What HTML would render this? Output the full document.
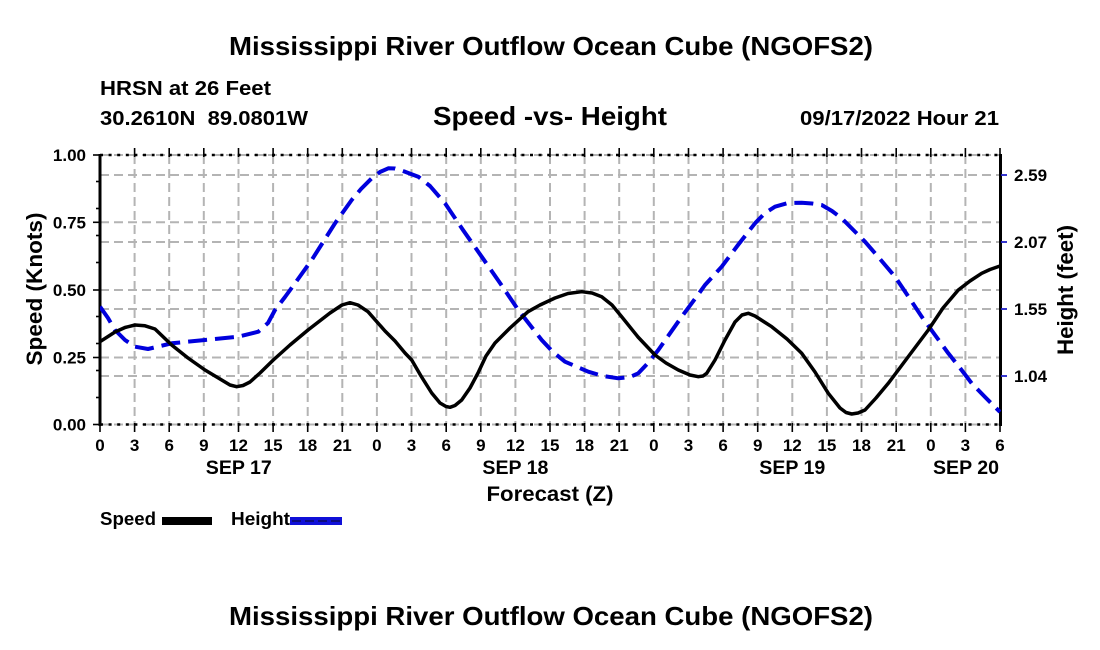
<!DOCTYPE html>
<html>
<head>
<meta charset="utf-8">
<style>
html,body{margin:0;padding:0;background:#fff;}
svg{display:block;}
text{font-family:"Liberation Sans",Arial,sans-serif;font-weight:bold;fill:#000;}
</style>
</head>
<body>
<svg width="1100" height="650" viewBox="0 0 1100 650" xmlns="http://www.w3.org/2000/svg">
<rect width="1100" height="650" fill="#fff"/>

<!-- Titles -->
<text x="229" y="55" font-size="26" textLength="644" lengthAdjust="spacingAndGlyphs">Mississippi River Outflow Ocean Cube (NGOFS2)</text>
<text x="100" y="95" font-size="20" textLength="171" lengthAdjust="spacingAndGlyphs">HRSN at 26 Feet</text>
<text x="100" y="125" font-size="20" textLength="208" lengthAdjust="spacingAndGlyphs">30.2610N&#160; 89.0801W</text>
<text x="433" y="125" font-size="26" textLength="234" lengthAdjust="spacingAndGlyphs">Speed -vs- Height</text>
<text x="800" y="125" font-size="20" textLength="199" lengthAdjust="spacingAndGlyphs">09/17/2022 Hour 21</text>

<!-- Grid -->
<g stroke="#b4b4b4" stroke-width="2" stroke-dasharray="9 5" fill="none">
  <line x1="100" y1="175" x2="1000" y2="175"/>
  <line x1="100" y1="222.3" x2="1000" y2="222.3"/>
  <line x1="100" y1="242" x2="1000" y2="242"/>
  <line x1="100" y1="290" x2="1000" y2="290"/>
  <line x1="100" y1="309" x2="1000" y2="309"/>
  <line x1="100" y1="357.5" x2="1000" y2="357.5"/>
  <line x1="100" y1="376" x2="1000" y2="376"/>
  <line x1="100" y1="155" x2="1000" y2="155"/>
  <line x1="100" y1="424.5" x2="1000" y2="424.5"/>
  <line x1="134.6" y1="155" x2="134.6" y2="424"/>
  <line x1="169.2" y1="155" x2="169.2" y2="424"/>
  <line x1="203.8" y1="155" x2="203.8" y2="424"/>
  <line x1="238.5" y1="155" x2="238.5" y2="424"/>
  <line x1="273.1" y1="155" x2="273.1" y2="424"/>
  <line x1="307.7" y1="155" x2="307.7" y2="424"/>
  <line x1="342.3" y1="155" x2="342.3" y2="424"/>
  <line x1="376.9" y1="155" x2="376.9" y2="424"/>
  <line x1="411.5" y1="155" x2="411.5" y2="424"/>
  <line x1="446.2" y1="155" x2="446.2" y2="424"/>
  <line x1="480.8" y1="155" x2="480.8" y2="424"/>
  <line x1="515.4" y1="155" x2="515.4" y2="424"/>
  <line x1="550" y1="155" x2="550" y2="424"/>
  <line x1="584.6" y1="155" x2="584.6" y2="424"/>
  <line x1="619.2" y1="155" x2="619.2" y2="424"/>
  <line x1="653.8" y1="155" x2="653.8" y2="424"/>
  <line x1="688.5" y1="155" x2="688.5" y2="424"/>
  <line x1="723.1" y1="155" x2="723.1" y2="424"/>
  <line x1="757.7" y1="155" x2="757.7" y2="424"/>
  <line x1="792.3" y1="155" x2="792.3" y2="424"/>
  <line x1="826.9" y1="155" x2="826.9" y2="424"/>
  <line x1="861.5" y1="155" x2="861.5" y2="424"/>
  <line x1="896.2" y1="155" x2="896.2" y2="424"/>
  <line x1="930.8" y1="155" x2="930.8" y2="424"/>
  <line x1="965.4" y1="155" x2="965.4" y2="424"/>
</g>

<!-- Top / bottom dotted borders -->
<g stroke="#000" stroke-width="2.5" stroke-dasharray="3 5.6" fill="none">
  <line x1="100" y1="155" x2="1000" y2="155"/>
  <line x1="100" y1="424.5" x2="1000" y2="424.5"/>
</g>

<!-- Top/bottom ticks -->
<g stroke="#000" stroke-width="1.6">
  <line x1="134.6" y1="148" x2="134.6" y2="157"/><line x1="134.6" y1="423" x2="134.6" y2="432"/>
  <line x1="169.2" y1="148" x2="169.2" y2="157"/><line x1="169.2" y1="423" x2="169.2" y2="432"/>
  <line x1="203.8" y1="148" x2="203.8" y2="157"/><line x1="203.8" y1="423" x2="203.8" y2="432"/>
  <line x1="238.5" y1="148" x2="238.5" y2="157"/><line x1="238.5" y1="423" x2="238.5" y2="432"/>
  <line x1="273.1" y1="148" x2="273.1" y2="157"/><line x1="273.1" y1="423" x2="273.1" y2="432"/>
  <line x1="307.7" y1="148" x2="307.7" y2="157"/><line x1="307.7" y1="423" x2="307.7" y2="432"/>
  <line x1="342.3" y1="148" x2="342.3" y2="157"/><line x1="342.3" y1="423" x2="342.3" y2="432"/>
  <line x1="376.9" y1="148" x2="376.9" y2="157"/><line x1="376.9" y1="423" x2="376.9" y2="432"/>
  <line x1="411.5" y1="148" x2="411.5" y2="157"/><line x1="411.5" y1="423" x2="411.5" y2="432"/>
  <line x1="446.2" y1="148" x2="446.2" y2="157"/><line x1="446.2" y1="423" x2="446.2" y2="432"/>
  <line x1="480.8" y1="148" x2="480.8" y2="157"/><line x1="480.8" y1="423" x2="480.8" y2="432"/>
  <line x1="515.4" y1="148" x2="515.4" y2="157"/><line x1="515.4" y1="423" x2="515.4" y2="432"/>
  <line x1="550" y1="148" x2="550" y2="157"/><line x1="550" y1="423" x2="550" y2="432"/>
  <line x1="584.6" y1="148" x2="584.6" y2="157"/><line x1="584.6" y1="423" x2="584.6" y2="432"/>
  <line x1="619.2" y1="148" x2="619.2" y2="157"/><line x1="619.2" y1="423" x2="619.2" y2="432"/>
  <line x1="653.8" y1="148" x2="653.8" y2="157"/><line x1="653.8" y1="423" x2="653.8" y2="432"/>
  <line x1="688.5" y1="148" x2="688.5" y2="157"/><line x1="688.5" y1="423" x2="688.5" y2="432"/>
  <line x1="723.1" y1="148" x2="723.1" y2="157"/><line x1="723.1" y1="423" x2="723.1" y2="432"/>
  <line x1="757.7" y1="148" x2="757.7" y2="157"/><line x1="757.7" y1="423" x2="757.7" y2="432"/>
  <line x1="792.3" y1="148" x2="792.3" y2="157"/><line x1="792.3" y1="423" x2="792.3" y2="432"/>
  <line x1="826.9" y1="148" x2="826.9" y2="157"/><line x1="826.9" y1="423" x2="826.9" y2="432"/>
  <line x1="861.5" y1="148" x2="861.5" y2="157"/><line x1="861.5" y1="423" x2="861.5" y2="432"/>
  <line x1="896.2" y1="148" x2="896.2" y2="157"/><line x1="896.2" y1="423" x2="896.2" y2="432"/>
  <line x1="930.8" y1="148" x2="930.8" y2="157"/><line x1="930.8" y1="423" x2="930.8" y2="432"/>
  <line x1="965.4" y1="148" x2="965.4" y2="157"/><line x1="965.4" y1="423" x2="965.4" y2="432"/>
  <line x1="1000" y1="148" x2="1000" y2="157"/><line x1="1000" y1="423" x2="1000" y2="432"/>
  <line x1="100" y1="423" x2="100" y2="432"/>
</g>

<!-- Left axis -->
<line x1="100" y1="154" x2="100" y2="426" stroke="#000" stroke-width="3"/>
<g stroke="#000" stroke-width="1.6">
  <line x1="93" y1="155" x2="100" y2="155"/>
  <line x1="93" y1="222.3" x2="100" y2="222.3"/>
  <line x1="93" y1="290" x2="100" y2="290"/>
  <line x1="93" y1="357.5" x2="100" y2="357.5"/>
  <line x1="93" y1="424.5" x2="100" y2="424.5"/>
  <line x1="96" y1="181.5" x2="100" y2="181.5"/>
  <line x1="96" y1="208.5" x2="100" y2="208.5"/>
  <line x1="96" y1="235.5" x2="100" y2="235.5"/>
  <line x1="96" y1="262.5" x2="100" y2="262.5"/>
  <line x1="96" y1="316.5" x2="100" y2="316.5"/>
  <line x1="96" y1="343.5" x2="100" y2="343.5"/>
  <line x1="96" y1="370.5" x2="100" y2="370.5"/>
  <line x1="96" y1="397.5" x2="100" y2="397.5"/>
</g>
<g font-size="17" text-anchor="end">
  <text x="86" y="161">1.00</text>
  <text x="86" y="228.3">0.75</text>
  <text x="86" y="296">0.50</text>
  <text x="86" y="363.5">0.25</text>
  <text x="86" y="430.5">0.00</text>
</g>

<!-- Right axis -->
<line x1="1000.5" y1="154" x2="1000.5" y2="426" stroke="#000" stroke-width="3"/>
<g stroke="#2020c8" stroke-width="1.8">
  <line x1="1001" y1="175" x2="1007" y2="175"/>
  <line x1="1001" y1="242" x2="1007" y2="242"/>
  <line x1="1001" y1="309" x2="1007" y2="309"/>
  <line x1="1001" y1="376" x2="1007" y2="376"/>
</g>
<g font-size="17">
  <text x="1014" y="181">2.59</text>
  <text x="1014" y="248">2.07</text>
  <text x="1014" y="315">1.55</text>
  <text x="1014" y="382">1.04</text>
</g>

<!-- Axis titles -->
<text transform="translate(42,289) rotate(-90)" font-size="22" text-anchor="middle" textLength="153" lengthAdjust="spacingAndGlyphs">Speed (Knots)</text>
<text transform="translate(1073,290) rotate(-90)" font-size="22" text-anchor="middle" textLength="130" lengthAdjust="spacingAndGlyphs">Height (feet)</text>

<!-- X tick labels -->
<g font-size="17" text-anchor="middle">
  <text x="100" y="451">0</text>
  <text x="134.6" y="451">3</text>
  <text x="169.2" y="451">6</text>
  <text x="203.8" y="451">9</text>
  <text x="238.5" y="451">12</text>
  <text x="273.1" y="451">15</text>
  <text x="307.7" y="451">18</text>
  <text x="342.3" y="451">21</text>
  <text x="376.9" y="451">0</text>
  <text x="411.5" y="451">3</text>
  <text x="446.2" y="451">6</text>
  <text x="480.8" y="451">9</text>
  <text x="515.4" y="451">12</text>
  <text x="550" y="451">15</text>
  <text x="584.6" y="451">18</text>
  <text x="619.2" y="451">21</text>
  <text x="653.8" y="451">0</text>
  <text x="688.5" y="451">3</text>
  <text x="723.1" y="451">6</text>
  <text x="757.7" y="451">9</text>
  <text x="792.3" y="451">12</text>
  <text x="826.9" y="451">15</text>
  <text x="861.5" y="451">18</text>
  <text x="896.2" y="451">21</text>
  <text x="930.8" y="451">0</text>
  <text x="965.4" y="451">3</text>
  <text x="1000" y="451">6</text>
</g>
<g font-size="19" text-anchor="middle">
  <text x="238.8" y="474" textLength="66" lengthAdjust="spacingAndGlyphs">SEP 17</text>
  <text x="515.4" y="474" textLength="66" lengthAdjust="spacingAndGlyphs">SEP 18</text>
  <text x="792.3" y="474" textLength="66" lengthAdjust="spacingAndGlyphs">SEP 19</text>
  <text x="966" y="474" textLength="66" lengthAdjust="spacingAndGlyphs">SEP 20</text>
</g>
<text x="550" y="501" font-size="21" text-anchor="middle" textLength="127" lengthAdjust="spacingAndGlyphs">Forecast (Z)</text>

<!-- Series clipped to plot -->
<defs>
  <clipPath id="pc"><rect x="100" y="150" width="901" height="280"/></clipPath>
</defs>
<g clip-path="url(#pc)" fill="none" stroke-linejoin="round">
  <polyline stroke="#0000dd" stroke-width="4" stroke-dasharray="19 8" points="100,306.7 108,318 115,330 125,340 135,346.7 148,349 171.7,343.3 205,340 238.3,336.7 258.3,331.7 268,323 275,310 285,297 295,283.3 311.7,260 335,223.3 351.7,200 361,189 371.7,178.3 380,172 388.3,168.3 395,168.5 405,171.7 418.3,176.7 430,186 445,203.3 463,230 481.7,256.7 500,283 518.3,310 541.7,340 553,352 565,361.7 588.3,371.7 603,376 618.3,378.3 630,377 638.3,373.3 648,363 658.3,350 681.7,316.7 700,292 705,285 721.7,266.7 738,245 755,223.3 765,213 775,206.7 788,203 801.7,202.7 812,203.5 821.7,205 832,211 841.7,218.3 865,241.7 880,259 895,276.7 908,296 921.7,316.7 935,335 948.3,353.3 960,368 971.7,383.3 985,397 1000,412"/>
  <polyline stroke="#000" stroke-width="3.5" stroke-linecap="round" points="100,341.7 115,332 125,327.5 135,325 145,325.8 155,329 171.7,345 188,358 205,370 220,379 230,385 236.7,386.7 243,385.5 250,382 260,373 273.3,360 290,345 308,330 330,313 342,305 350,302.7 358,305 368,311.7 385,331 395,341 405,353 411.7,360 421,376 431.7,393 440,403 446,406.5 450,407.3 455,405.5 461.7,400 470,388 478,373 486,356 495,343 510,328 528,311.7 540,305 555,298 568,293.5 581.7,291.7 592,293 601.7,296.7 612,305 621.7,316.7 638,337 655,355 666,363 678.3,370 690,375 698.3,376.7 703,376 706.7,373.3 715,360 725,340 735,322 742,315 748.3,313.3 755,316 771.7,326.7 787,339 801.7,353.3 815,372 828.3,393.3 840,408 846,412.5 851.7,414 858,413 865,410 876,398 888.3,383.3 908,357 928.3,330 943,308 958.3,290 970,281 981.7,273.3 990,269.5 1000,266"/>
</g>

<!-- Legend -->
<text x="100" y="525" font-size="18" textLength="56" lengthAdjust="spacingAndGlyphs">Speed</text>
<rect x="162" y="517" width="50" height="8" fill="#000"/>
<text x="231" y="525" font-size="18" textLength="59" lengthAdjust="spacingAndGlyphs">Height</text>
<rect x="290" y="517" width="52" height="8" fill="#1010d8"/>
<line x1="292" y1="521" x2="340" y2="521" stroke="#0a0a60" stroke-width="1.5" stroke-dasharray="9 4"/>

<!-- Bottom title -->
<text x="229" y="625" font-size="26" textLength="644" lengthAdjust="spacingAndGlyphs">Mississippi River Outflow Ocean Cube (NGOFS2)</text>
</svg>
</body>
</html>
